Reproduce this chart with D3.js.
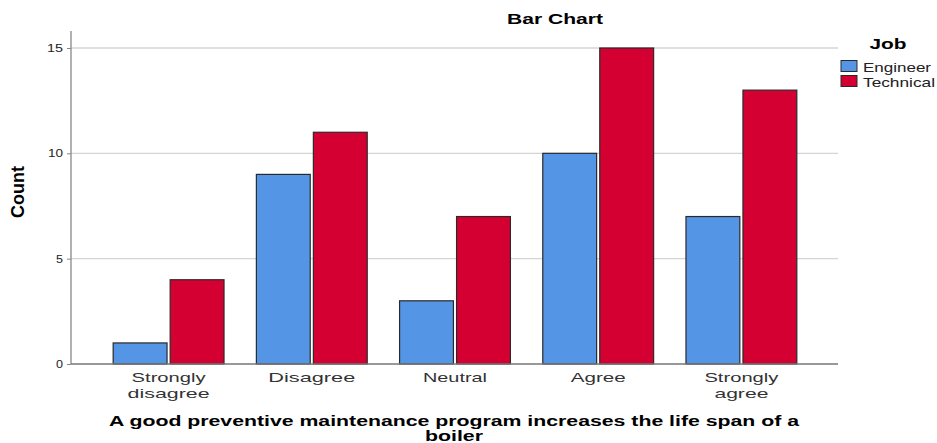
<!DOCTYPE html>
<html><head><meta charset="utf-8">
<script src="https://cdn.jsdelivr.net/npm/d3@7"></script>
<style>body{margin:0;background:#fff}svg{display:block}text{font-family:"Liberation Sans",Arial,sans-serif}</style>
</head><body>
<svg id="c" width="937" height="443"></svg>
<script>
const categories = ["Strongly disagree","Disagree","Neutral","Agree","Strongly agree"];
const categoryLines = [["Strongly","disagree"],["Disagree"],["Neutral"],["Agree"],["Strongly","agree"]];
const seriesNames = ["Engineer","Technical"];
const engineer = [1, 9, 3, 10, 7];
const technical = [4, 11, 7, 15, 13];
const yTicks = [0, 5, 10, 15];
const colors = ["#5595e5", "#d50032"];

// approximate rendered widths in the reference (text is horizontally stretched)
const widths = {"Strongly":74,"disagree":82,"Disagree":87,"Neutral":64,"Agree":55,"agree":54,
  "Engineer":68,"Technical":72,"Job":37,"Bar Chart":96,
  "A good preventive maintenance program increases the life span of a":690,"boiler":58,
  "0":7,"5":7,"10":15,"15":16};
function fit(sel, s) { if (widths[s]) sel.attr("textLength", widths[s]).attr("lengthAdjust", "spacingAndGlyphs"); return sel; }

const svg = d3.select("#c");
const axisLeft = 71, axisRight = 838, y0 = 364;
const x = d3.scaleBand().domain(categories).range([97, 813]).paddingInner(0.226).paddingOuter(0.113);
const xs = d3.scaleBand().domain(seriesNames).range([0, x.bandwidth()]).paddingInner(0.055);
const y = d3.scaleLinear().domain([0, 15]).range([y0, 48]);

// gridlines
svg.append("g").selectAll("line").data(yTicks.filter(d => d > 0)).join("line")
  .attr("x1", axisLeft).attr("x2", axisRight).attr("y1", d => y(d)).attr("y2", d => y(d))
  .attr("stroke", "#d4d4d4").attr("stroke-width", 1.3);

// y axis
const ya = svg.append("g").attr("transform", `translate(${axisLeft},0)`)
  .call(d3.axisLeft(y).tickValues(yTicks).tickSize(4).tickPadding(4));
ya.select(".domain").remove();
ya.selectAll(".tick line").attr("stroke", "#888");
ya.selectAll(".tick text").attr("font-size", 11).attr("fill", "#222").attr("dy", "0.32em")
  .each(function(d){ fit(d3.select(this), String(d)); });
svg.append("line").attr("x1", axisLeft).attr("x2", axisLeft).attr("y1", 31).attr("y2", y0)
  .attr("stroke", "#888").attr("stroke-width", 1.3);

// bars
const data = categories.map((c, i) => ({c, vals: [engineer[i], technical[i]]}));
const groups = svg.append("g").selectAll("g").data(data).join("g")
  .attr("transform", d => `translate(${x(d.c)},0)`);
groups.selectAll("rect").data(d => d.vals.map((v, j) => ({v, s: seriesNames[j], j}))).join("rect")
  .attr("x", d => xs(d.s)).attr("width", xs.bandwidth())
  .attr("y", d => y(d.v)).attr("height", d => y0 - y(d.v))
  .attr("fill", d => colors[d.j]).attr("stroke", "#2a2a2a").attr("stroke-width", 1.2);

// x axis line
svg.append("line").attr("x1", axisLeft).attr("x2", axisRight).attr("y1", y0).attr("y2", y0)
  .attr("stroke", "#777").attr("stroke-width", 1.3);

// x labels
categories.forEach((c, i) => {
  const cx = x(c) + x.bandwidth() / 2;
  categoryLines[i].forEach((l, k) => {
    fit(svg.append("text").attr("x", cx).attr("y", 382 + k * 15.5).attr("text-anchor", "middle")
      .attr("font-size", 13.5).attr("fill", "#333").text(l), l);
  });
});

// titles
fit(svg.append("text").attr("x", 555).attr("y", 24).attr("text-anchor", "middle")
  .attr("font-size", 15).attr("font-weight", "bold").text("Bar Chart"), "Bar Chart");
const xl1 = "A good preventive maintenance program increases the life span of a";
fit(svg.append("text").attr("x", 454).attr("y", 426).attr("text-anchor", "middle")
  .attr("font-size", 14.5).attr("font-weight", "bold").text(xl1), xl1);
fit(svg.append("text").attr("x", 454).attr("y", 441).attr("text-anchor", "middle")
  .attr("font-size", 14.5).attr("font-weight", "bold").text("boiler"), "boiler");
svg.append("text").attr("transform", "translate(24,192) rotate(-90)").attr("text-anchor", "middle")
  .attr("font-size", 18).attr("font-weight", "bold")
  .attr("style", "font-family:'Liberation Sans Narrow','Arial Narrow',sans-serif").text("Count");

// legend
fit(svg.append("text").attr("x", 888).attr("y", 49).attr("text-anchor", "middle")
  .attr("font-size", 15).attr("font-weight", "bold").text("Job"), "Job");
const lg = svg.append("g").selectAll("g").data(seriesNames).join("g")
  .attr("transform", (d, i) => `translate(841,${60.5 + i * 15})`);
lg.append("rect").attr("width", 16).attr("height", 11).attr("fill", (d, i) => colors[i])
  .attr("stroke", "#2a2a2a").attr("stroke-width", 1);
lg.append("text").attr("x", 22).attr("y", 11).attr("font-size", 13).attr("fill", "#222").text(d => d)
  .each(function(d){ fit(d3.select(this), d); });
</script>
</body></html>
